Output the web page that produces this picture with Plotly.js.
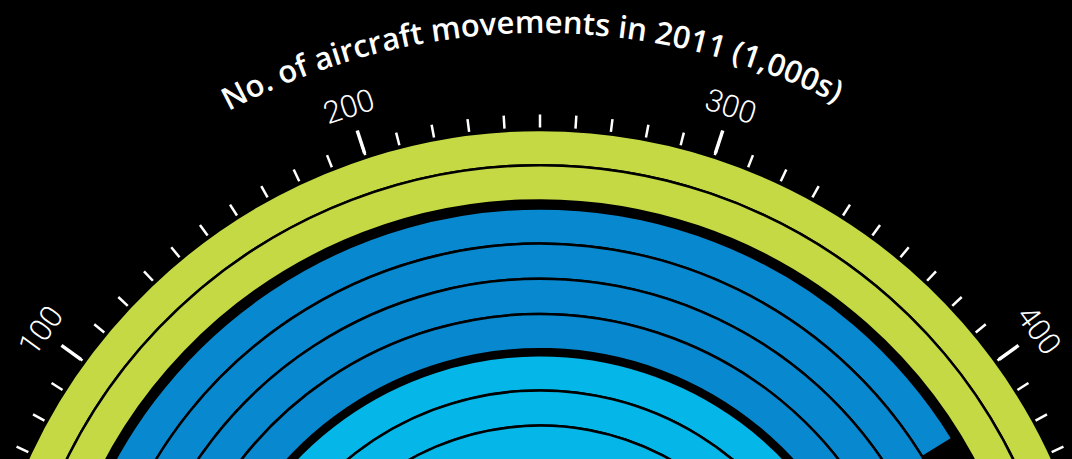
<!DOCTYPE html>
<html>
<head>
<meta charset="utf-8">
<script src="https://cdn.plot.ly/plotly-3.0.1.min.js"></script>
<style>
  html, body { margin: 0; padding: 0; background: #000; width: 1072px; height: 459px; overflow: hidden; }
  #chart { position: absolute; left: -260px; top: -107px; width: 1600px; height: 1600px; }
</style>
</head>
<body>
<div id="chart"></div>
<script>
// ---------------- data ----------------
const rings      = ['Ring 1', 'Ring 2', 'Ring 3', 'Ring 4', 'Ring 5', 'Ring 6', 'Ring 7', 'Ring 8', 'Ring 9'];
const ringGroup  = ['green', 'green', 'blue', 'blue', 'blue', 'blue', 'lightblue', 'lightblue', 'lightblue'];
const movements  = [514, 487, 412, 430, 418, 410, 400, 385, 372];   // thousands of aircraft movements, 2011
const majorTicks = [0, 100, 200, 300, 400, 500];
const tickLabels = ['0', '100', '200', '300', '400', '500'];
const titleText  = 'No. of aircraft movements in 2011 (1,000s)';

// ---------------- styling / geometry ----------------
const groupColor = { green: '#c5d945', blue: '#0888ce', lightblue: '#05b7e8' };
const groupGap   = { blue: 8, lightblue: 6 };
const W = 1600, H = 1600, CX = 800, CY = 800;
const RP = 565;            // polar radius in px == radial range max (minor ticks start here)
const RP2 = 592;           // outer radius of the major ticks
const RING_OUT = 563, PITCH = 35.2;
const VMAX = 500;          // value at the right horizontal
const DEG = 180 / VMAX;    // degrees per unit

// ring radial positions
const base = [], thick = [];
let outer = RING_OUT;
rings.forEach((r, i) => {
  if (i > 0 && ringGroup[i] !== ringGroup[i - 1]) outer -= (groupGap[ringGroup[i]] || 0);
  base.push(outer - PITCH); thick.push(PITCH);
  outer -= PITCH;
});

const traces = [];
['green', 'blue', 'lightblue'].forEach(g => {
  const idx = rings.map((_, i) => i).filter(i => ringGroup[i] === g);
  traces.push({
    type: 'barpolar',
    name: g,
    r: idx.map(i => thick[i]),
    base: idx.map(i => base[i]),
    theta: idx.map(i => movements[i] * DEG / 2),
    width: idx.map(i => movements[i] * DEG),
    marker: { color: groupColor[g], line: { color: '#000', width: 2.5 } },
    hoverinfo: 'skip'
  });
});
// carrier for the major-tick subplot (invisible)
traces.push({
  type: 'scatterpolar', subplot: 'polar2', mode: 'markers',
  r: [0], theta: [0], marker: { size: 1, opacity: 0 }, hoverinfo: 'skip'
});

// rotated tick labels (only the ones inside the visible half are shown in the crop)
const LABEL_R = 617;
const annotations = majorTicks.slice(1, 5).map((v, k) => {
  const phi = (v - VMAX / 2) * DEG;           // clockwise from north
  const a = phi * Math.PI / 180;
  return {
    xref: 'paper', yref: 'paper',
    x: (CX + LABEL_R * Math.sin(a)) / W,
    y: 1 - (CY - LABEL_R * Math.cos(a)) / H,
    text: tickLabels[k + 1], showarrow: false, textangle: phi,
    xanchor: 'center', yanchor: 'middle',
    font: { family: 'Roboto, sans-serif', size: 31, weight: 300, color: '#fff' }
  };
});

const angCommon = {
  rotation: 180, direction: 'clockwise', thetaunit: 'degrees',
  showticklabels: false, showgrid: false, showline: false, tickcolor: '#fff'
};

const layout = {
  width: W, height: H,
  margin: { l: 0, r: 0, t: 0, b: 0, pad: 0 },
  paper_bgcolor: '#000', plot_bgcolor: '#000',
  showlegend: false,
  annotations: annotations,
  polar: {
    bgcolor: '#000',
    domain: { x: [(CX - RP) / W, (CX + RP) / W], y: [(H - CY - RP) / H, (H - CY + RP) / H] },
    radialaxis: { visible: false, range: [0, RP], autorange: false },
    angularaxis: Object.assign({}, angCommon, {
      tickmode: 'linear', tick0: 0, dtick: 10 * DEG,
      ticks: 'outside', ticklen: 13, tickwidth: 2.5
    }),
    barmode: 'overlay'
  },
  polar2: {
    bgcolor: 'rgba(0,0,0,0)',
    domain: { x: [(CX - RP2) / W, (CX + RP2) / W], y: [(H - CY - RP2) / H, (H - CY + RP2) / H] },
    radialaxis: { visible: false, range: [0, RP2], autorange: false },
    angularaxis: Object.assign({}, angCommon, {
      tickmode: 'array', tickvals: majorTicks.map(v => v * DEG),
      ticks: 'inside', ticklen: 24, tickwidth: 3.5
    })
  }
};

const gd = document.getElementById('chart');
Plotly.newPlot(gd, traces, layout, { staticPlot: true, displayModeBar: false }).then(() => {
  // curved axis title along an arc concentric with the chart
  const NS = 'http://www.w3.org/2000/svg';
  const svgs = gd.querySelectorAll('svg.main-svg');
  const svg = svgs[svgs.length - 1];
  const TR = 660, half = 60 * Math.PI / 180;
  const defs = document.createElementNS(NS, 'defs');
  const path = document.createElementNS(NS, 'path');
  path.setAttribute('id', 'titleArc');
  path.setAttribute('d',
    `M ${CX - TR * Math.sin(half)} ${CY - TR * Math.cos(half)} A ${TR} ${TR} 0 0 1 ${CX + TR * Math.sin(half)} ${CY - TR * Math.cos(half)}`);
  path.setAttribute('fill', 'none');
  defs.appendChild(path);
  svg.appendChild(defs);
  const text = document.createElementNS(NS, 'text');
  text.setAttribute('class', 'axis-title');
  text.setAttribute('fill', '#fff');
  text.setAttribute('style', "font-family: 'Open Sans', sans-serif; font-size: 31px; font-weight: 600;");
  const tp = document.createElementNS(NS, 'textPath');
  tp.setAttribute('href', '#titleArc');
  tp.setAttributeNS('http://www.w3.org/1999/xlink', 'xlink:href', '#titleArc');
  tp.setAttribute('startOffset', (100 * (60 - 0.75) / 120) + '%');
  tp.setAttribute('text-anchor', 'middle');
  tp.textContent = titleText;
  text.appendChild(tp);
  svg.appendChild(text);
});
</script>
</body>
</html>
